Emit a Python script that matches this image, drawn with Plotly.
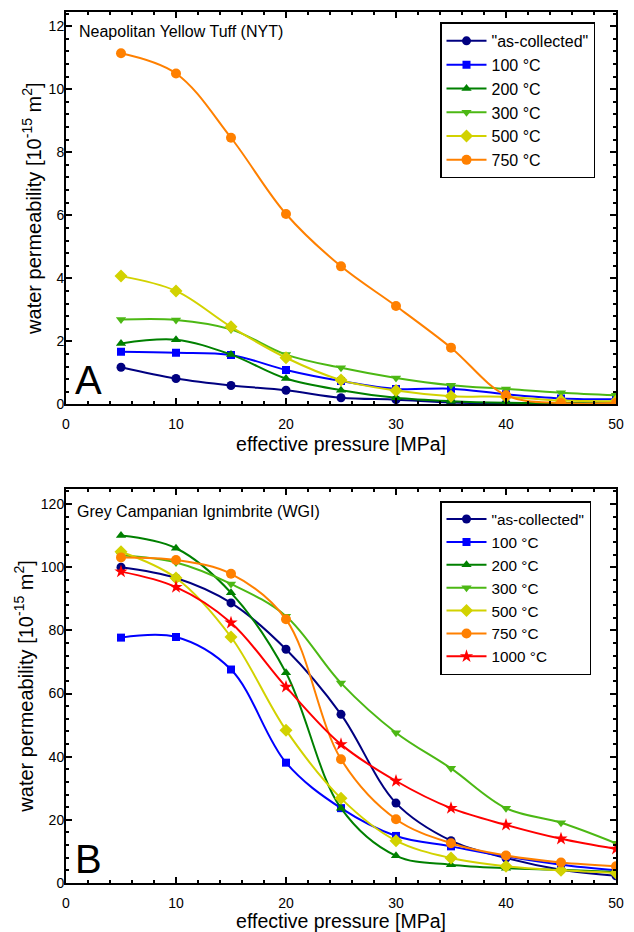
import plotly.graph_objects as go

pressure = [5, 10, 15, 20, 25, 30, 35, 40, 45, 50]

# Panel A: Neapolitan Yellow Tuff (NYT)
nyt_names = ['"as-collected"', "100 °C", "200 °C", "300 °C", "500 °C", "750 °C"]
nyt_asc = [1.18, 0.82, 0.60, 0.45, 0.21, 0.15, 0.06, 0.03, 0.02, 0.02]
nyt_100 = [1.67, 1.64, 1.57, 1.09, 0.74, 0.49, 0.50, 0.32, 0.19, 0.16]
nyt_200 = [1.93, 2.05, 1.58, 0.82, 0.45, 0.21, 0.10, 0.05, 0.04, 0.03]
nyt_300 = [2.69, 2.68, 2.38, 1.58, 1.16, 0.84, 0.61, 0.49, 0.37, 0.29]
nyt_500 = [4.07, 3.60, 2.46, 1.48, 0.77, 0.44, 0.26, 0.24, 0.12, 0.10]
nyt_750 = [11.14, 10.50, 8.46, 6.04, 4.38, 3.12, 1.80, 0.29, 0.04, 0.04]

# Panel B: Grey Campanian Ignimbrite (WGI)
wgi_names = ['"as-collected"', "100 °C", "200 °C", "300 °C", "500 °C", "750 °C", "1000 °C"]
wgi_asc = [100.0, 96.6, 88.7, 74.0, 53.4, 25.3, 13.4, 7.9, 4.2, 2.3]
wgi_100 = [77.7, 77.9, 67.6, 38.1, 23.7, 14.9, 11.6, 8.4, 5.8, 4.0]
wgi_200 = [110.0, 106.0, 91.9, 66.6, 23.7, 8.6, 5.8, 4.7, 4.2, 3.5]
wgi_300 = [103.8, 101.5, 94.7, 84.5, 63.3, 47.6, 36.3, 23.7, 19.1, 12.6]
wgi_500 = [104.9, 96.6, 77.9, 48.4, 26.8, 13.4, 7.9, 5.3, 4.0, 3.2]
wgi_750 = [103.1, 102.3, 97.9, 83.5, 39.2, 20.2, 12.6, 8.7, 6.5, 5.3]
wgi_1000 = [98.6, 93.7, 82.4, 62.1, 43.9, 32.3, 23.7, 18.4, 14.0, 10.8]

colors = ["#000080", "#0000ff", "#008000", "#4cb814", "#d2d200", "#ff8000", "#ff0000"]
symbols = ["circle", "square", "triangle-up", "triangle-down", "diamond", "circle", "star"]
sizes = [9, 8, 9, 9, 10, 10, 10]

FONT = "Liberation Sans, Arial, sans-serif"

fig = go.Figure()

nyt_series = [nyt_asc, nyt_100, nyt_200, nyt_300, nyt_500, nyt_750]
for i, (name, ys) in enumerate(zip(nyt_names, nyt_series)):
    fig.add_trace(go.Scatter(
        x=pressure, y=ys, name=name, mode="lines+markers",
        line=dict(color=colors[i], width=2, shape="spline", smoothing=1.0),
        marker=dict(color=colors[i], symbol=symbols[i], size=sizes[i]),
        xaxis="x", yaxis="y", legend="legend"))

wgi_series = [wgi_asc, wgi_100, wgi_200, wgi_300, wgi_500, wgi_750, wgi_1000]
for i, (name, ys) in enumerate(zip(wgi_names, wgi_series)):
    fig.add_trace(go.Scatter(
        x=pressure, y=ys, name=name, mode="lines+markers",
        line=dict(color=colors[i], width=2, shape="spline", smoothing=1.0),
        marker=dict(color=colors[i], symbol=symbols[i], size=sizes[i]),
        xaxis="x2", yaxis="y2", legend="legend2"))

axis_common = dict(
    showline=True, linecolor="black", linewidth=2, mirror="allticks",
    ticks="inside", ticklen=6, tickwidth=2, tickcolor="black",
    showgrid=False, zeroline=False,
    tickfont=dict(family=FONT, size=14, color="black"),
)

ytitle = "water permeability [10<sup>-15</sup> m<sup>2</sup>]"
xtitle = "effective pressure [MPa]"

minor_x = dict(dtick=2, ticks="inside", ticklen=3, tickwidth=1.5, tickcolor="black")

fig.update_layout(
    width=626, height=924,
    margin=dict(l=58, r=18, t=2, b=49),
    plot_bgcolor="white", paper_bgcolor="white",
    font=dict(family=FONT, color="black"),
    showlegend=True,
    xaxis=dict(domain=[0, 1], range=[0, 50], anchor="y", dtick=10, minor=minor_x,
               ticklabelstandoff=6,
               title=dict(text=xtitle, font=dict(size=19.5), standoff=6),
               **axis_common),
    yaxis=dict(domain=[0.5495, 1], range=[0, 12.45], anchor="x", dtick=2,
               minor=dict(dtick=0.4, ticks="inside", ticklen=3, tickwidth=1.5, tickcolor="black"),
               ticklabelstandoff=-3,
               title=dict(text=ytitle, font=dict(size=20), standoff=2),
               **axis_common),
    xaxis2=dict(domain=[0, 1], range=[0, 50], anchor="y2", dtick=10, minor=minor_x,
                ticklabelstandoff=6,
                title=dict(text=xtitle, font=dict(size=19.5), standoff=6),
                **axis_common),
    yaxis2=dict(domain=[0, 0.4525], range=[0, 124.8], anchor="x2", dtick=20,
                minor=dict(dtick=4, ticks="inside", ticklen=3, tickwidth=1.5, tickcolor="black"),
                ticklabelstandoff=-3,
                title=dict(text=ytitle, font=dict(size=20), standoff=2),
                **axis_common),
    legend=dict(x=0.68, y=0.988, xanchor="left", yanchor="top",
                bgcolor="white", bordercolor="black", borderwidth=1.5,
                font=dict(family=FONT, size=16), itemwidth=40, tracegroupgap=0),
    legend2=dict(x=0.68, y=0.4385, xanchor="left", yanchor="top",
                 bgcolor="white", bordercolor="black", borderwidth=1.5,
                 font=dict(family=FONT, size=15.3), itemwidth=40, tracegroupgap=0),
)

fig.add_annotation(text="Neapolitan Yellow Tuff (NYT)", xref="x domain", yref="y domain",
                   x=0.02, y=0.978, xanchor="left", yanchor="top", showarrow=False,
                   font=dict(family=FONT, size=16))
fig.add_annotation(text="Grey Campanian Ignimbrite (WGI)", xref="x2 domain", yref="y2 domain",
                   x=0.017, y=0.968, xanchor="left", yanchor="top", showarrow=False,
                   font=dict(family=FONT, size=16))
fig.add_annotation(text="A", xref="x domain", yref="y domain",
                   x=0.012, y=0.0, xanchor="left", yanchor="bottom", showarrow=False,
                   font=dict(family=FONT, size=40))
fig.add_annotation(text="B", xref="x2 domain", yref="y2 domain",
                   x=0.012, y=0.0, xanchor="left", yanchor="bottom", showarrow=False,
                   font=dict(family=FONT, size=40))

fig.write_html("out.html")
